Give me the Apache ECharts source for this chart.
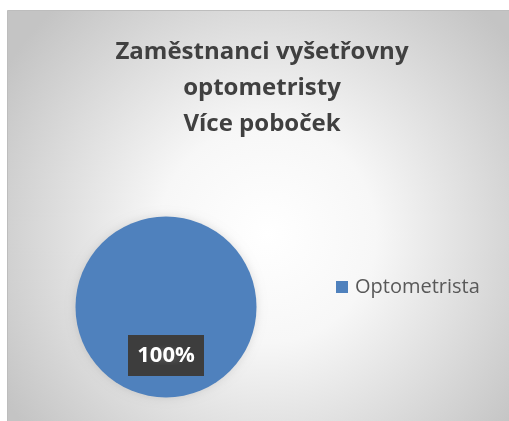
<!DOCTYPE html>
<html>
<head>
<meta charset="utf-8">
<script src="https://cdn.jsdelivr.net/npm/echarts@6/dist/echarts.min.js"></script>
<style>
  html, body { margin: 0; padding: 0; background: #fff; }
  #main { width: 509px; height: 421px; }
</style>
</head>
<body>
<div id="main"></div>
<script>
// data
var titleLines = ['Zaměstnanci vyšetřovny', 'optometristy', 'Více poboček']
var categories = ['Optometrista']
var values = [1]
var blue = '#4f81bd'

// small dotted texture for the dark data label
function dotPattern() {
    var c = document.createElement('canvas')
    c.width = 6
    c.height = 6
    var ctx = c.getContext('2d')
    ctx.fillStyle = '#3d3d3d'
    ctx.fillRect(0, 0, 6, 6)
    ctx.fillStyle = '#4e4e4e'
    ctx.fillRect(2, 2, 2, 2)
    return c
}

var chart = echarts.init(document.getElementById('main'), null, { renderer: 'canvas' })

var pieData = []
for (let i = 0; i < categories.length; i++) {
    pieData.push({ name: categories[i], value: values[i] })
}

var option = {
    animation: false,
    graphic: [{
        type: 'rect',
        z: -10,
        silent: true,
        shape: { x: 7.5, y: 10.5, width: 520, height: 430 },
        style: {
            fill: {
                type: 'radial', x: 0.5, y: 0.52, r: 0.72,
                colorStops: [
                    { offset: 0, color: '#ffffff' },
                    { offset: 0.35, color: '#f7f7f7' },
                    { offset: 1, color: '#c4c4c4' }
                ]
            },
            stroke: '#bdbdbd',
            lineWidth: 1
        }
    }],
    title: {
        text: titleLines.join('\n'),
        left: 257,
        top: 29,
        textAlign: 'center',
        textStyle: {
            fontFamily: 'Open Sans',
            fontWeight: 'bold',
            fontSize: 24,
            lineHeight: 36,
            color: '#404040'
        }
    },
    legend: {
        data: categories,
        orient: 'vertical',
        left: 331,
        top: 272,
        icon: 'rect',
        itemWidth: 12,
        itemHeight: 12,
        itemGap: 8,
        textStyle: {
            fontFamily: 'Open Sans',
            fontSize: 20,
            color: '#595959',
            padding: [0, 0, 0, 2]
        }
    },
    series: [{
        name: 'Zaměstnanci',
        type: 'pie',
        center: [166, 307],
        radius: 90.5,
        startAngle: 90,
        color: [blue],
        itemStyle: {
            shadowBlur: 10,
            shadowColor: 'rgba(0,0,0,0.12)'
        },
        label: {
            show: true,
            position: 'inside',
            formatter: '{d}%',
            fontFamily: 'Open Sans',
            fontWeight: 'bold',
            fontSize: 22,
            lineHeight: 24,
            color: '#ffffff',
            backgroundColor: { image: dotPattern() },
            padding: [9, 9, 8, 9],
            shadowBlur: 5,
            shadowOffsetX: 3,
            shadowOffsetY: 3,
            shadowColor: 'rgba(0,0,0,0.45)'
        },
        labelLine: { show: false },
        emphasis: { disabled: true },
        data: pieData
    }]
}

chart.setOption(option)
</script>
</body>
</html>
